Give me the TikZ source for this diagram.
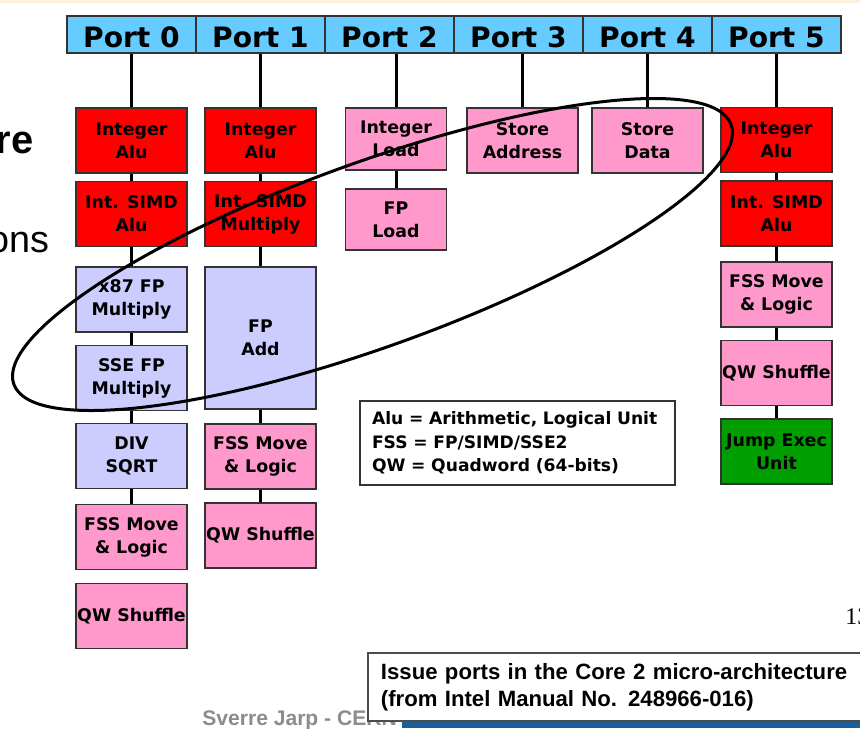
\documentclass[tikz,border=0pt]{standalone}
\usepackage{fontspec}
\newfontfamily\unitfont{DejaVu Sans}
\newfontfamily\slidefont{Liberation Sans}
\newfontfamily\pagefont{Liberation Serif}
\definecolor{portblue}{HTML}{66CCFF}
\definecolor{alured}{HTML}{FF0000}
\definecolor{ldpink}{HTML}{FF99CC}
\definecolor{fplav}{HTML}{CCCCFF}
\definecolor{jmpgreen}{HTML}{009E00}
\definecolor{edge}{HTML}{333333}
\definecolor{barblue}{HTML}{1B5E9C}
\definecolor{cream}{HTML}{FCF1DC}
\tikzset{
	unit/.style={draw=edge, line width=0.03cm, minimum width=2.22cm, minimum height=1.3cm,
		inner xsep=0pt, align=center, font=\unitfont\bfseries\fontsize{9.9}{13}\selectfont},
	port/.style={draw=edge, line width=0.03cm, fill=portblue, minimum width=2.58cm, minimum height=0.74cm,
		inner sep=0pt, text height=0.5cm, text depth=0pt, font=\unitfont\bfseries\fontsize{16}{18}\selectfont},
	link/.style={line width=0.06cm},
}
\begin{document}
\begin{tikzpicture}[x=0.02cm, y=-0.02cm]
	\useasboundingbox (0,0) rectangle (860,728);
	\clip (0,0) rectangle (860,728);
	\fill[white] (0,0) rectangle (860,728);
	\fill[cream] (0,0) rectangle (860,3);
	
	% slide text behind the figure
	\node[anchor=base east, inner sep=0pt, font=\slidefont\bfseries\fontsize{22.7}{26}\selectfont] (title) at (34,153) {re};
	\node[anchor=base east, inner sep=0pt, font=\slidefont\fontsize{21.5}{26}\selectfont] (bullet) at (50,252) {ons};
	\node[anchor=base west, inner sep=0pt, font=\pagefont\fontsize{13.6}{16}\selectfont] (pagenum) at (845,624) {13};
	\node[anchor=base west, inner sep=0pt, text=black!45, font=\slidefont\bfseries\fontsize{12}{14}\selectfont] (author) at (202,725) {Sverre Jarp - CERN};
	\fill[barblue] (402,722) rectangle (860,728);
	
	% ports
	\foreach \i in {0,...,5}
		\node[port] (p\i) at ({131.5+129*\i},34.5) {Port \i};
	
	% port 0
	\node[unit, fill=alured] (alu0) at (131.5,140.5) {Integer\\Alu};
	\node[unit, fill=alured] (simd0) at (131.5,214) {Int. SIMD\\Alu};
	\node[unit, fill=fplav] (x87) at (131.5,299.5) {x87 FP\\Multiply};
	\node[unit, fill=fplav] (sse) at (131.5,378) {SSE FP\\Multiply};
	\node[unit, fill=fplav] (div) at (131.5,456) {DIV\\SQRT};
	\node[unit, fill=ldpink] (fss0) at (131.5,537) {FSS Move\\\& Logic};
	\node[unit, fill=ldpink] (qw0) at (131.5,616) {QW Shuffle};
	
	% port 1
	\node[unit, fill=alured] (alu1) at (260.5,140.5) {Integer\\Alu};
	\node[unit, fill=alured] (mul1) at (260.5,214) {Int. SIMD\\Multiply};
	\node[unit, fill=fplav, minimum height=2.84cm] (fpadd) at (260.5,338) {FP\\Add};
	\node[unit, fill=ldpink] (fss1) at (260.5,456.5) {FSS Move\\\& Logic};
	\node[unit, fill=ldpink] (qw1) at (260.5,535.5) {QW Shuffle};
	
	% port 2, 3, 4
	\node[unit, fill=ldpink, minimum width=2.02cm, minimum height=1.24cm] (ld) at (396,139) {Integer\\Load};
	\node[unit, fill=ldpink, minimum width=2.02cm, minimum height=1.22cm] (fpld) at (396,219.5) {FP\\Load};
	\node[unit, fill=ldpink] (sta) at (522.5,140.5) {Store\\Address};
	\node[unit, fill=ldpink] (std) at (647.5,140.5) {Store\\Data};
	
	% port 5
	\node[unit, fill=alured] (alu5) at (776.5,140) {Integer\\Alu};
	\node[unit, fill=alured] (simd5) at (776.5,213.5) {Int. SIMD\\Alu};
	\node[unit, fill=ldpink] (fss5) at (776.5,294.5) {FSS Move\\\& Logic};
	\node[unit, fill=ldpink] (qw5) at (776.5,373) {QW Shuffle};
	\node[unit, fill=jmpgreen] (jmp) at (776.5,451.5) {Jump Exec\\Unit};
	
	% connectors
	\foreach \p/\u in {0/alu0, 1/alu1, 2/ld, 3/sta, 4/std, 5/alu5}
		\draw[link] (\u.north) -- (\u.north |- p\p.south);
	\foreach \a/\b in {alu0/simd0, simd0/x87, x87/sse, sse/div, div/fss0,
		alu1/mul1, mul1/fpadd, fpadd/fss1, fss1/qw1, ld/fpld,
		alu5/simd5, simd5/fss5, fss5/qw5, qw5/jmp}
		\draw[link] (\a) -- (\b);
	
	% legend and caption
	\node[draw=edge, line width=0.03cm, fill=white, minimum width=6.3cm, minimum height=1.68cm,
		inner xsep=0.24cm, text width=5.82cm, align=left,
		font=\unitfont\bfseries\fontsize{9.75}{13.3}\selectfont] (legend) at (517.5,443)
		{Alu = Arithmetic, Logical Unit\\FSS = FP/SIMD/SSE2\\QW = Quadword (64-bits)};
	\node[anchor=west, draw=black!70, line width=0.04cm, fill=white, minimum height=1.36cm,
		inner xsep=0.26cm, text width=10cm, align=left,
		font=\slidefont\bfseries\fontsize{12.6}{15.3}\selectfont] (caption) at (367,687)
		{Issue ports in the Core 2 micro-architecture\\(from Intel Manual No. 248966-016)};
	
	% ring round the load/store and FP units
	\draw[line width=0.06cm, rotate around={19.9:(372.5,254.5)}] (372.5,254.5) ellipse [x radius=7.63cm, y radius=1.84cm];
\end{tikzpicture}
\end{document}
